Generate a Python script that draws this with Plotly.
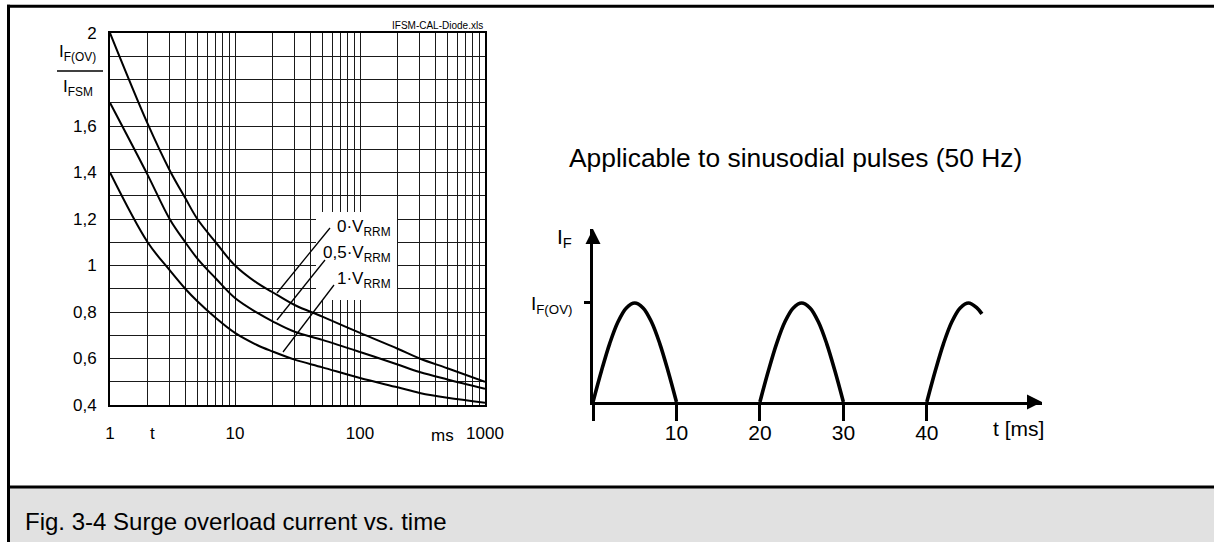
import plotly.graph_objects as go

W, H = 1214, 542
FONT = "Liberation Sans, Arial, sans-serif"

# ---------------- data: left chart (surge overload ratio vs. time) ----------------
t_ms = [1, 2, 3, 4, 5, 7, 10, 15, 20, 30, 50, 100, 200, 300, 500, 1000]
ratio_0V = [2.00, 1.61, 1.41, 1.29, 1.20, 1.10, 1.00, 0.925, 0.885, 0.83, 0.78, 0.71, 0.642, 0.60, 0.558, 0.50]
ratio_05V = [1.70, 1.39, 1.20, 1.10, 1.03, 0.945, 0.86, 0.797, 0.76, 0.715, 0.68, 0.628, 0.574, 0.542, 0.51, 0.47]
ratio_1V = [1.40, 1.10, 0.98, 0.90, 0.846, 0.775, 0.71, 0.658, 0.63, 0.595, 0.562, 0.516, 0.476, 0.452, 0.431, 0.41]
series_labels = ["0·V<sub>RRM</sub>", "0,5·V<sub>RRM</sub>", "1·V<sub>RRM</sub>"]

x_major = [1, 10, 100, 1000]
x_major_labels = ["1", "10", "100", "1000"]
x_minor = [m * d for d in (1, 10, 100) for m in range(2, 10)]
y_major = [0.4, 0.6, 0.8, 1.0, 1.2, 1.4, 1.6, 2.0]
y_major_labels = ["0,4", "0,6", "0,8", "1", "1,2", "1,4", "1,6", "2"]
y_minor = [0.5, 0.7, 0.9, 1.1, 1.3, 1.5, 1.7, 1.8, 1.9]

# ---------------- data: right sketch (sinusoidal pulses, 50 Hz) ----------------
pulse1_t = [0, 1, 2, 3, 4, 5, 6, 7, 8, 9, 10]
pulse1_i = [0, 0.31, 0.59, 0.81, 0.95, 1.0, 0.95, 0.81, 0.59, 0.31, 0]
pulse2_t = [20, 21, 22, 23, 24, 25, 26, 27, 28, 29, 30]
pulse2_i = [0, 0.31, 0.59, 0.81, 0.95, 1.0, 0.95, 0.81, 0.59, 0.31, 0]
pulse3_t = [40, 41, 42, 43, 44, 45, 46, 46.6]
pulse3_i = [0, 0.31, 0.59, 0.81, 0.95, 1.0, 0.95, 0.89]
t_axis_ticks = [10, 20, 30, 40]
t_axis_labels = ["10", "20", "30", "40"]
t_axis_origin = [0]
t_axis_end = 53.8
i_axis_end = 1.747


def px(x):
    return x / W


def py(y):
    return 1 - y / H


fig = go.Figure()

for vals in (ratio_0V, ratio_05V, ratio_1V):
    fig.add_trace(go.Scatter(x=t_ms, y=vals, mode="lines", xaxis="x", yaxis="y",
                             line=dict(color="black", width=2, shape="spline", smoothing=1.0),
                             hoverinfo="skip"))

for tt, ii in ((pulse1_t, pulse1_i), (pulse2_t, pulse2_i), (pulse3_t, pulse3_i)):
    fig.add_trace(go.Scatter(x=tt, y=ii, mode="lines", xaxis="x2", yaxis="y2",
                             line=dict(color="black", width=3.6, shape="spline", smoothing=1.0),
                             hoverinfo="skip"))

fig.add_trace(go.Scatter(x=[0], y=[i_axis_end], mode="markers", xaxis="x2", yaxis="y2",
                         marker=dict(symbol="arrow-up", size=15, color="black", line=dict(width=0)),
                         cliponaxis=False, hoverinfo="skip"))
fig.add_trace(go.Scatter(x=[t_axis_end], y=[0], mode="markers", xaxis="x2", yaxis="y2",
                         marker=dict(symbol="arrow-right", size=15, color="black", line=dict(width=0)),
                         cliponaxis=False, hoverinfo="skip"))

tickfont = dict(family=FONT, size=17, color="black")
GRID = "#1a1a1a"

fig.update_layout(
    width=W, height=H, autosize=False,
    margin=dict(l=0, r=0, t=0, b=0, pad=0, autoexpand=False),
    paper_bgcolor="white", plot_bgcolor="white",
    showlegend=False,
    font=dict(family=FONT, color="black"),
    xaxis=dict(type="log", range=[0, 3], domain=[px(110), px(485)], anchor="y", automargin=False,
               tickvals=x_major, ticktext=x_major_labels,
               showgrid=True, gridcolor=GRID, gridwidth=1,
               minor=dict(tickvals=x_minor, showgrid=True, gridcolor=GRID, gridwidth=1, ticks=""),
               showline=True, mirror=True, linecolor="black", linewidth=2,
               ticks="", tickfont=tickfont, ticklabelstandoff=12, zeroline=False),
    yaxis=dict(range=[0.4, 2.0], domain=[py(405), py(33)], anchor="x", automargin=False,
               tickvals=y_major, ticktext=y_major_labels,
               showgrid=True, gridcolor=GRID, gridwidth=1,
               minor=dict(tickvals=y_minor, showgrid=True, gridcolor=GRID, gridwidth=1, ticks=""),
               showline=True, mirror=True, linecolor="black", linewidth=2,
               ticks="", tickfont=tickfont, ticklabelstandoff=8, zeroline=False),
    xaxis2=dict(range=[0, t_axis_end], domain=[px(593), px(1042)], anchor="y2", automargin=False,
                tickvals=t_axis_ticks, ticktext=t_axis_labels,
                ticks="outside", ticklen=16, tickwidth=2.5, tickcolor="black",
                minor=dict(tickvals=t_axis_origin, ticks="outside", ticklen=16, tickwidth=2.5,
                           tickcolor="black", showgrid=False),
                tickfont=dict(family=FONT, size=21, color="black"), ticklabelstandoff=-6,
                showgrid=False, zeroline=False,
                showline=True, linecolor="black", linewidth=2.5),
    yaxis2=dict(range=[0, i_axis_end], domain=[py(402), py(229)], anchor="x2", automargin=False,
                tickvals=[1], ticktext=["I<sub>F(OV)</sub>"],
                ticks="outside", ticklen=6, tickwidth=2.5, tickcolor="black",
                tickfont=dict(family=FONT, size=19, color="black"), ticklabelstandoff=8,
                showgrid=False, zeroline=False,
                showline=True, linecolor="black", linewidth=2.5),
)

FRAME = dict(color="black", width=3)
shapes = [
    # caption box background
    dict(type="rect", xref="paper", yref="paper", x0=px(8.5), x1=1, y0=0, y1=py(487),
         line=dict(width=0), fillcolor="#e1e1e1", layer="above"),
    # outer frame: top, left, separator
    dict(type="line", xref="paper", yref="paper", x0=px(7), x1=1, y0=py(6.2), y1=py(6.2),
         line=FRAME, layer="above"),
    dict(type="line", xref="paper", yref="paper", x0=px(8.5), x1=px(8.5), y0=0, y1=py(4.7),
         line=FRAME, layer="above"),
    dict(type="line", xref="paper", yref="paper", x0=px(7), x1=1, y0=py(487), y1=py(487),
         line=FRAME, layer="above"),
    # white label box
    dict(type="rect", xref="paper", yref="paper", x0=px(316), x1=px(397), y0=py(300), y1=py(212),
         line=dict(width=0), fillcolor="white", layer="above"),
    # leader lines
    dict(type="line", xref="paper", yref="paper", x0=px(330), y0=py(228), x1=px(277), y1=py(293),
         line=dict(color="black", width=1.3), layer="above"),
    dict(type="line", xref="paper", yref="paper", x0=px(325), y0=py(260), x1=px(277), y1=py(320),
         line=dict(color="black", width=1.3), layer="above"),
    dict(type="line", xref="paper", yref="paper", x0=px(334), y0=py(285), x1=px(283), y1=py(352),
         line=dict(color="black", width=1.3), layer="above"),
    # fraction bar of the y-axis title
    dict(type="line", xref="paper", yref="paper", x0=px(57), y0=py(71), x1=px(103), y1=py(71),
         line=dict(color="black", width=1.5), layer="above"),
]
fig.update_layout(shapes=shapes)

ann = []


def add_text(text, x, y, size, xanchor="center", yanchor="middle"):
    ann.append(dict(text=text, xref="paper", yref="paper", x=px(x), y=py(y), showarrow=False,
                    xanchor=xanchor, yanchor=yanchor, font=dict(family=FONT, size=size, color="black")))


add_text(series_labels[0], 393, 228, 17, xanchor="right")
add_text(series_labels[1], 393, 254, 17, xanchor="right")
add_text(series_labels[2], 393, 280, 17, xanchor="right")
add_text("I<sub>F(OV)</sub>", 98, 53, 17, xanchor="right")
add_text("I<sub>FSM</sub>", 61, 88, 17, xanchor="left")
add_text("t", 152, 433, 17)
add_text("ms", 442, 435, 17)
add_text("IFSM-CAL-Diode.xls", 485, 25, 10, xanchor="right")
add_text("Applicable to sinusodial pulses (50 Hz)", 567, 158, 26.4, xanchor="left")
add_text("I<sub>F</sub>", 574, 238, 21, xanchor="right")
add_text("t [ms]", 1046, 428, 21, xanchor="right")
add_text("Fig. 3-4 Surge overload current vs. time", 23, 521, 24, xanchor="left")

fig.update_layout(annotations=ann)

fig.write_html(
    "out.html",
    post_script="var d=document.getElementById('{plot_id}');"
                "document.body.style.margin='0';"
                "d.style.position='fixed';d.style.left='0px';d.style.top='0px';",
)
